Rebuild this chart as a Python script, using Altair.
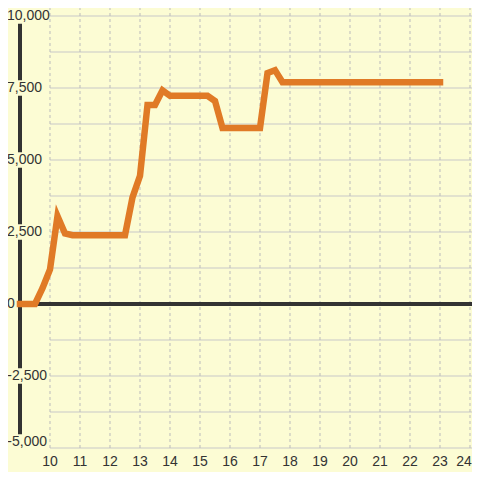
import altair as alt
import pandas as pd

# ---- data ----
hours = [9, 9.5, 9.75, 10, 10.25, 10.5, 10.75, 12.5, 12.75, 13, 13.25, 13.5,
         13.75, 14, 15.25, 15.5, 15.75, 17, 17.25, 17.5, 17.75, 23]
amounts = [0, 0, 550, 1200, 3050, 2450, 2390, 2390, 3700, 4450, 6910, 6910,
           7420, 7230, 7230, 7050, 6110, 6110, 8020, 8120, 7700, 7700]

y_pos_ticks = [10000, 7500, 5000, 2500, 0]
y_pos_labels = ["10,000", "7,500", "5,000", "2,500", "0"]
y_neg_ticks = [-2500]
y_neg_labels = ["-2,500"]
y_bottom_tick = [-5000]
y_bottom_label = ["-5,000"]
grid_y = [-5000, -3750, -2500, -1250, 0, 1250, 2500, 3750, 5000, 6250, 7500, 8750, 10000]
x_ticks = list(range(10, 24))
x_last_tick = [24]

BG = "#FCFCD4"
ORANGE = "#E07A26"
DARK = "#333333"
GRID = "#C8C8C8"
FONT = "Liberation Sans"

X_MIN = 9
X_MAX = 9 + 452 / 30
xs = alt.Scale(domain=[X_MIN, X_MAX], nice=False, zero=False)
ys = alt.Scale(domain=[-5000, 10000], nice=False, zero=False)

line_df = pd.DataFrame({"hour": hours, "amount": amounts})
grid_y_df = pd.DataFrame({"v": grid_y})
x_df = pd.DataFrame({"v": x_ticks, "t": [str(v) for v in x_ticks]})
x_last_df = pd.DataFrame({"v": x_last_tick, "t": [str(v) for v in x_last_tick]})
vgrid_df = pd.DataFrame({"v": x_ticks + x_last_tick})
pos_df = pd.DataFrame({"v": y_pos_ticks, "t": y_pos_labels})
neg_df = pd.DataFrame({"v": y_neg_ticks, "t": y_neg_labels})
bot_df = pd.DataFrame({"v": y_bottom_tick, "t": y_bottom_label})
box_df = pd.DataFrame({"v": [t for t in y_pos_ticks + y_neg_ticks if t != 0]})

hgrid = alt.Chart(grid_y_df).mark_rule(color=GRID, strokeWidth=1).encode(
    y=alt.Y("v:Q", scale=ys, axis=None),
    x=alt.datum(10, scale=xs, axis=None),
    x2=alt.datum(X_MAX),
)

vgrid = alt.Chart(vgrid_df).mark_rule(color="#BBBBBB", strokeWidth=1, strokeDash=[3, 3]).encode(
    x=alt.X("v:Q", scale=xs, axis=None),
    y=alt.datum(-5000, scale=ys, axis=None),
    y2=alt.value(-8),
)

yaxis_line = alt.Chart(line_df).mark_rule(color=DARK, strokeWidth=3).encode(
    x=alt.datum(X_MIN, scale=xs, axis=None),
    y=alt.datum(-5000, scale=ys, axis=None),
    y2=alt.datum(10000),
)

boxes = alt.Chart(box_df).mark_square(size=240, color=BG, opacity=1, filled=True).encode(
    x=alt.datum(X_MIN, scale=xs, axis=None),
    y=alt.Y("v:Q", scale=ys, axis=None),
)
bot_box = alt.Chart(bot_df).mark_square(size=240, color=BG, opacity=1, filled=True, yOffset=-6).encode(
    x=alt.datum(X_MIN, scale=xs, axis=None),
    y=alt.Y("v:Q", scale=ys, axis=None),
)

txt = dict(font=FONT, fontSize=14, color=DARK, baseline="middle")
pos_labels = alt.Chart(pos_df).mark_text(align="left", **txt).encode(
    x=alt.value(-13),
    y=alt.Y("v:Q", scale=ys, axis=None),
    text="t:N",
)
neg_labels = alt.Chart(neg_df).mark_text(align="right", **txt).encode(
    x=alt.value(27),
    y=alt.Y("v:Q", scale=ys, axis=None),
    text="t:N",
)
bot_labels = alt.Chart(bot_df).mark_text(align="right", dy=-6, **txt).encode(
    x=alt.value(27),
    y=alt.Y("v:Q", scale=ys, axis=None),
    text="t:N",
)
x_labels = alt.Chart(x_df).mark_text(align="center", **txt).encode(
    x=alt.X("v:Q", scale=xs, axis=None),
    y=alt.value(445.5),
    text="t:N",
)
x_last_label = alt.Chart(x_last_df).mark_text(align="center", dx=-6, **txt).encode(
    x=alt.X("v:Q", scale=xs, axis=None),
    y=alt.value(445.5),
    text="t:N",
)

zero_line = alt.Chart(line_df).mark_rule(color=DARK, strokeWidth=3).encode(
    y=alt.datum(0, scale=ys, axis=None),
    x=alt.datum(X_MIN, scale=xs, axis=None),
    x2=alt.datum(X_MAX),
)

series = alt.Chart(line_df).mark_line(color=ORANGE, strokeWidth=6.5, strokeCap="square").encode(
    x=alt.X("hour:Q", scale=xs, axis=None),
    y=alt.Y("amount:Q", scale=ys, axis=None),
)

chart = alt.layer(
    hgrid, vgrid, yaxis_line, boxes, bot_box, pos_labels, neg_labels, bot_labels,
    x_labels, x_last_label, zero_line, series,
).properties(
    width=452,
    height=432,
    padding={"left": 12, "top": 8, "right": 0, "bottom": 24},
    autosize="none",
    background=BG,
).configure_view(stroke=None)

chart.save("out.html", embed_options={"renderer": "svg", "actions": False})
